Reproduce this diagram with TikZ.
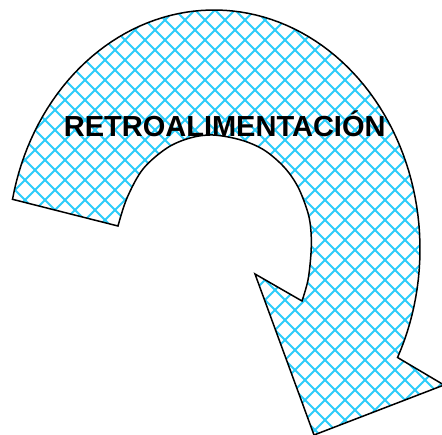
\documentclass[tikz,border=0pt]{standalone}
\usepackage{fontspec}
\setmainfont{Liberation Sans}
\definecolor{hatchblue}{RGB}{45,205,250}
\tikzset{
  outline/.style={draw=black, line width=1.5pt, line join=miter},
  hatchline/.style={draw=hatchblue, line width=1.8pt},
  titletext/.style={font=\fontsize{29pt}{34pt}\selectfont\bfseries, inner sep=0pt, anchor=base}
}
\newcommand\fbArrowPath{plot[domain=192:387, samples=90, variable=\t] ({214+206*cos(\t)}, {249+239*sin(\t)}) -- (444,385) -- (314,435) -- (255,274) -- (302,301) -- plot[smooth, tension=0.55] coordinates {(302,301) (308,280) (311,253) (311,232) (308,213) (298,187) (284,167) (264,150) (241,140) (213,135) (190,138) (167,148) (143,169) (127,198) (118,226)} -- cycle}
\begin{document}
\begin{tikzpicture}[x=1pt, y=-1pt]
  \fill[white] (0,0) rectangle (442,434);
  \useasboundingbox (0,0) rectangle (442,434);
  \begin{scope}
    \clip \fbArrowPath;
    \foreach \c in {-460,-440,...,460} \draw[hatchline] (\c,-5) -- ++(450,450);
    \foreach \c in {-10,10,...,930} \draw[hatchline] (\c,-5) -- ++(-450,450);
  \end{scope}
  \draw[outline] \fbArrowPath;
  \node[titletext] (title) at (224.7,136.7) {RETROALIMENTACIÓN};
\end{tikzpicture}
\end{document}
